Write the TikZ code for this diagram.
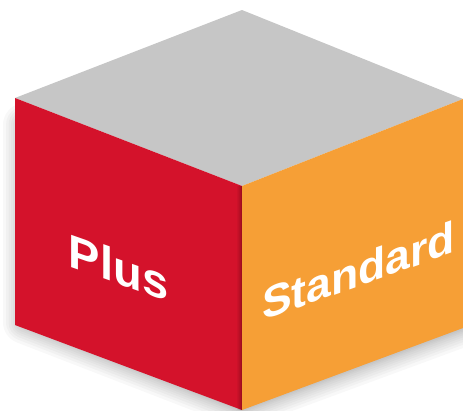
\documentclass[tikz,border=0pt]{standalone}
\usepackage{fontspec}
\setmainfont{Liberation Sans}
\definecolor{topgrey}{HTML}{C6C6C6}
\definecolor{plusred}{HTML}{D4122B}
\definecolor{stdorange}{HTML}{F69F36}
\tikzset{
  faceshape/.style={draw=none},
  facelabel/.style={text=white,font=\bfseries,inner sep=0pt,anchor=base},
  softshadow/.style={fill=black,fill opacity=0.026,draw=black,draw opacity=0.026,line join=round}
}
\begin{document}
\begin{tikzpicture}[x=1pt,y=-1pt]
\useasboundingbox (0,0) rectangle (463,410);
\coordinate (T) at (242,10);
\coordinate (L) at (15,98);
\coordinate (C) at (242,186);
\coordinate (R) at (463,99);
\coordinate (BL) at (15,325);
\coordinate (B) at (242,410);
\coordinate (BR) at (463,328);
\clip (0,0) rectangle (463,410);
\foreach \w in {44,38,33,28,24,20,16,13,10,7,4,2}{
  \draw[softshadow,line width=\w pt] (25,125) -- (25,322) -- (242,406) -- (470,322) -- cycle;
}
\fill[topgrey,faceshape] (T) -- (R) -- (C) -- (L) -- cycle;
\fill[plusred,faceshape] (L) -- (C) -- (B) -- (BL) -- cycle;
\fill[stdorange,faceshape] (C) -- (R) -- (BR) -- (B) -- cycle;
\foreach \d/\o in {5/0.04,4/0.04,3/0.05,2/0.06,1/0.08}{
  \fill[black,fill opacity=\o] (242-\d,186) rectangle (242,410);
}
\node[facelabel,font=\bfseries\fontsize{47}{47}\selectfont,cm={1,-0.35,0,1,(0,0)}] (plus) at (118.5,284) {Plus};
\node[facelabel,font=\bfseries\fontsize{44.5}{45}\selectfont,cm={1,0.355,0,1,(0,0)}] (standard) at (358.5,286.5) {Standard};
\end{tikzpicture}
\end{document}
